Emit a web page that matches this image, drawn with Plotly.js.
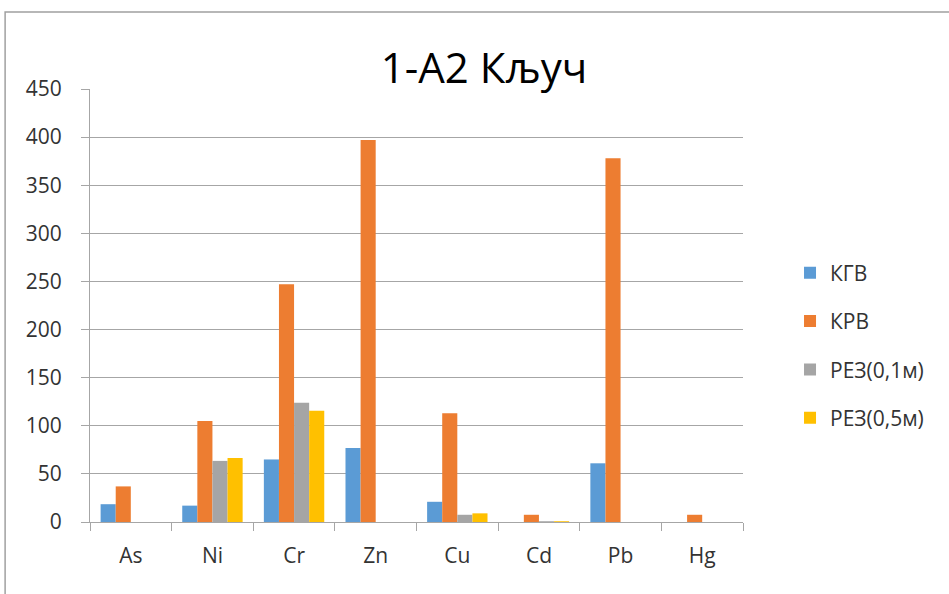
<!DOCTYPE html>
<html>
<head>
<meta charset="utf-8">
<script src="https://cdn.plot.ly/plotly-3.0.1.min.js"></script>
<style>html,body{margin:0;padding:0;background:#fff;}#chart{width:949px;height:594px;}</style>
</head>
<body>
<div id="chart"></div>
<script>
const categories = ["As", "Ni", "Cr", "Zn", "Cu", "Cd", "Pb", "Hg"];
const seriesNames = ["КГВ", "КРВ", "РЕЗ(0,1м)", "РЕЗ(0,5м)"];
const kgv   = [18.5, 17, 65, 77, 21, 0, 61, 0];
const krv   = [37, 105, 247, 397, 113, 7.5, 378, 7.5];
const rez01 = [0, 63.5, 124, 0, 7.5, 0.8, 0, 0];
const rez05 = [0, 66.5, 115.5, 0, 9, 0.8, 0, 0];
const colors = ["#5B9BD5", "#ED7D31", "#A5A5A5", "#FFC000"];
const yTicks = [0, 50, 100, 150, 200, 250, 300, 350, 400, 450];

const allSeries = [kgv, krv, rez01, rez05];
const traces = allSeries.map((vals, i) => ({
  type: "bar",
  name: seriesNames[i],
  x: categories,
  y: vals,
  marker: {color: colors[i], line: {width: 0}},
  legendgroup: "g" + i,
  hoverinfo: "x+y+name"
}));

const font = "'Open Sans', 'Noto Sans', sans-serif";
const txt = "#333333";
const layout = {
  width: 949, height: 594,
  margin: {l: 90, r: 206, t: 89, b: 72},
  paper_bgcolor: "#ffffff",
  plot_bgcolor: "#ffffff",
  font: {family: font, color: txt, size: 21},
  title: {text: "1-А2 Кључ", font: {family: font, size: 42, color: "#000000"},
          x: 0.51, xanchor: "center", y: 0.885, yanchor: "middle"},
  barmode: "group",
  bargap: 0.26,
  bargroupgap: 0,
  xaxis: {
    type: "category",
    showline: true, linecolor: "#a6a6a6", linewidth: 1,
    ticks: "outside", tickson: "boundaries", ticklen: 8, tickcolor: "#a6a6a6",
    showgrid: false, zeroline: false,
    tickfont: {family: font, size: 21, color: txt},
    ticklabelstandoff: 15
  },
  yaxis: {
    range: [0, 450],
    tickvals: yTicks,
    showline: true, linecolor: "#a6a6a6", linewidth: 1,
    ticks: "outside", ticklen: 8, tickcolor: "#a6a6a6",
    showgrid: true, gridcolor: "#a6a6a6", gridwidth: 1,
    zeroline: false,
    tickfont: {family: font, size: 21, color: txt},
    ticklabelstandoff: 15
  },
  legend: {
    x: 1.072, xanchor: "left", y: 0.622, yanchor: "top",
    font: {family: font, size: 21, color: txt},
    tracegroupgap: 18, itemwidth: 30, bgcolor: "rgba(0,0,0,0)"
  },
  showlegend: true,
  shapes: [{
    type: "rect", xref: "paper", yref: "paper",
    x0: -0.130, x1: 1.5, y0: -0.5, y1: 1.178,
    line: {color: "#a0a0a0", width: 1.5}, fillcolor: "rgba(0,0,0,0)", layer: "below"
  }]
};

Plotly.newPlot("chart", traces, layout, {displayModeBar: false, staticPlot: true});
</script>
</body>
</html>
